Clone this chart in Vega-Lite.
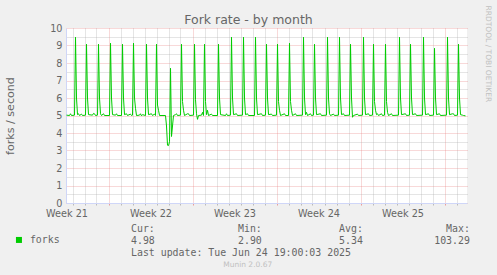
{
  "$schema": "https://vega.github.io/schema/vega-lite/v6.json",
  "width": 401,
  "height": 175,
  "autosize": {"type": "none"},
  "padding": {"left": 66, "top": 28, "right": 30, "bottom": 72},
  "background": "#f0f0f0",
  "view": {"fill": "#ffffff", "stroke": null},
  "config": {"font": "DejaVu Sans"},
  "title": {
    "text": "Munin 2.0.67",
    "orient": "bottom",
    "frame": "group",
    "anchor": "middle",
    "dx": -18.8,
    "offset": 4,
    "font": "DejaVu Sans",
    "fontSize": 7.5,
    "fontWeight": "normal",
    "color": "#c0c0c0"
  },
  "data": {
    "values": [
      {"t": "2025-05-22T12:00Z", "v": 5.02}, {"t": "2025-05-22T18:00Z", "v": 5.0}, {"t": "2025-05-22T20:00Z", "v": 5.1}, {"t": "2025-05-22T22:00Z", "v": 5.0},
      {"t": "2025-05-23T04:00Z", "v": 5.02}, {"t": "2025-05-23T06:00Z", "v": 9.47}, {"t": "2025-05-23T08:00Z", "v": 6.0}, {"t": "2025-05-23T10:00Z", "v": 5.05}, {"t": "2025-05-23T12:00Z", "v": 5.1}, {"t": "2025-05-23T14:00Z", "v": 5.0}, {"t": "2025-05-23T18:00Z", "v": 5.08}, {"t": "2025-05-23T20:00Z", "v": 5.0},
      {"t": "2025-05-24T02:00Z", "v": 5.02}, {"t": "2025-05-24T04:00Z", "v": 9.07}, {"t": "2025-05-24T06:00Z", "v": 6.0}, {"t": "2025-05-24T08:00Z", "v": 5.05}, {"t": "2025-05-24T16:00Z", "v": 5.02}, {"t": "2025-05-24T18:00Z", "v": 5.12}, {"t": "2025-05-24T20:00Z", "v": 5.1}, {"t": "2025-05-24T22:00Z", "v": 5.0},
      {"t": "2025-05-25T02:00Z", "v": 5.02}, {"t": "2025-05-25T04:00Z", "v": 9.07}, {"t": "2025-05-25T06:00Z", "v": 6.0}, {"t": "2025-05-25T08:00Z", "v": 5.1}, {"t": "2025-05-25T10:00Z", "v": 5.0}, {"t": "2025-05-25T14:00Z", "v": 5.1}, {"t": "2025-05-25T16:00Z", "v": 5.0},
      {"t": "2025-05-26T02:00Z", "v": 5.0}, {"t": "2025-05-26T04:00Z", "v": 9.13}, {"t": "2025-05-26T06:00Z", "v": 6.0}, {"t": "2025-05-26T08:00Z", "v": 5.05}, {"t": "2025-05-26T14:00Z", "v": 5.02}, {"t": "2025-05-26T16:00Z", "v": 5.1}, {"t": "2025-05-26T18:00Z", "v": 5.0},
      {"t": "2025-05-27T02:00Z", "v": 5.0}, {"t": "2025-05-27T04:00Z", "v": 9.07}, {"t": "2025-05-27T06:00Z", "v": 6.0}, {"t": "2025-05-27T08:00Z", "v": 5.05}, {"t": "2025-05-27T12:00Z", "v": 5.1}, {"t": "2025-05-27T14:00Z", "v": 5.0}, {"t": "2025-05-27T20:00Z", "v": 5.08}, {"t": "2025-05-27T22:00Z", "v": 5.0},
      {"t": "2025-05-28T00:00Z", "v": 5.02}, {"t": "2025-05-28T02:00Z", "v": 9.13}, {"t": "2025-05-28T04:00Z", "v": 6.0}, {"t": "2025-05-28T06:00Z", "v": 5.41}, {"t": "2025-05-28T08:00Z", "v": 5.0}, {"t": "2025-05-28T14:00Z", "v": 5.02}, {"t": "2025-05-28T16:00Z", "v": 5.1}, {"t": "2025-05-28T18:00Z", "v": 4.98}, {"t": "2025-05-28T20:00Z", "v": 5.05},
      {"t": "2025-05-29T02:00Z", "v": 5.0}, {"t": "2025-05-29T04:00Z", "v": 9.07}, {"t": "2025-05-29T06:00Z", "v": 6.0}, {"t": "2025-05-29T08:00Z", "v": 5.05}, {"t": "2025-05-29T14:00Z", "v": 5.1}, {"t": "2025-05-29T16:00Z", "v": 5.0}, {"t": "2025-05-29T20:00Z", "v": 5.08}, {"t": "2025-05-29T22:00Z", "v": 5.0},
      {"t": "2025-05-30T00:00Z", "v": 9.07}, {"t": "2025-05-30T02:00Z", "v": 5.6}, {"t": "2025-05-30T04:00Z", "v": 5.3}, {"t": "2025-05-30T06:00Z", "v": 5.0}, {"t": "2025-05-30T18:00Z", "v": 5.0}, {"t": "2025-05-30T20:00Z", "v": 4.4}, {"t": "2025-05-30T22:00Z", "v": 3.3},
      {"t": "2025-05-31T00:00Z", "v": 3.28}, {"t": "2025-05-31T02:00Z", "v": 3.5}, {"t": "2025-05-31T04:00Z", "v": 7.7}, {"t": "2025-05-31T06:00Z", "v": 3.8}, {"t": "2025-05-31T08:00Z", "v": 4.4}, {"t": "2025-05-31T10:00Z", "v": 5.0}, {"t": "2025-05-31T14:00Z", "v": 5.05}, {"t": "2025-05-31T16:00Z", "v": 5.1}, {"t": "2025-05-31T18:00Z", "v": 5.0},
      {"t": "2025-06-01T00:00Z", "v": 5.02}, {"t": "2025-06-01T02:00Z", "v": 9.07}, {"t": "2025-06-01T04:00Z", "v": 5.8}, {"t": "2025-06-01T06:00Z", "v": 5.3}, {"t": "2025-06-01T08:00Z", "v": 5.0}, {"t": "2025-06-01T14:00Z", "v": 5.1}, {"t": "2025-06-01T16:00Z", "v": 5.1}, {"t": "2025-06-01T18:00Z", "v": 5.0},
      {"t": "2025-06-02T02:00Z", "v": 5.02}, {"t": "2025-06-02T04:00Z", "v": 9.07}, {"t": "2025-06-02T06:00Z", "v": 5.9}, {"t": "2025-06-02T08:00Z", "v": 5.1}, {"t": "2025-06-02T10:00Z", "v": 4.78}, {"t": "2025-06-02T12:00Z", "v": 5.0}, {"t": "2025-06-02T18:00Z", "v": 5.02}, {"t": "2025-06-02T20:00Z", "v": 5.18}, {"t": "2025-06-02T22:00Z", "v": 5.0},
      {"t": "2025-06-03T00:00Z", "v": 9.07}, {"t": "2025-06-03T02:00Z", "v": 5.8}, {"t": "2025-06-03T04:00Z", "v": 5.05}, {"t": "2025-06-03T06:00Z", "v": 5.3}, {"t": "2025-06-03T08:00Z", "v": 5.0}, {"t": "2025-06-03T14:00Z", "v": 5.08}, {"t": "2025-06-03T16:00Z", "v": 5.0},
      {"t": "2025-06-04T02:00Z", "v": 5.0}, {"t": "2025-06-04T04:00Z", "v": 9.07}, {"t": "2025-06-04T06:00Z", "v": 6.0}, {"t": "2025-06-04T08:00Z", "v": 5.05}, {"t": "2025-06-04T18:00Z", "v": 5.0}, {"t": "2025-06-04T20:00Z", "v": 5.1}, {"t": "2025-06-04T22:00Z", "v": 5.0},
      {"t": "2025-06-05T04:00Z", "v": 5.02}, {"t": "2025-06-05T06:00Z", "v": 9.47}, {"t": "2025-06-05T08:00Z", "v": 6.0}, {"t": "2025-06-05T10:00Z", "v": 5.05}, {"t": "2025-06-05T16:00Z", "v": 5.1}, {"t": "2025-06-05T18:00Z", "v": 5.0},
      {"t": "2025-06-06T04:00Z", "v": 5.02}, {"t": "2025-06-06T06:00Z", "v": 9.47}, {"t": "2025-06-06T08:00Z", "v": 6.0}, {"t": "2025-06-06T10:00Z", "v": 5.05}, {"t": "2025-06-06T14:00Z", "v": 5.1}, {"t": "2025-06-06T16:00Z", "v": 5.0},
      {"t": "2025-06-07T04:00Z", "v": 5.0}, {"t": "2025-06-07T06:00Z", "v": 9.47}, {"t": "2025-06-07T08:00Z", "v": 6.0}, {"t": "2025-06-07T10:00Z", "v": 5.05}, {"t": "2025-06-07T18:00Z", "v": 5.1}, {"t": "2025-06-07T20:00Z", "v": 5.0},
      {"t": "2025-06-08T02:00Z", "v": 5.02}, {"t": "2025-06-08T04:00Z", "v": 9.07}, {"t": "2025-06-08T06:00Z", "v": 6.0}, {"t": "2025-06-08T08:00Z", "v": 5.05}, {"t": "2025-06-08T14:00Z", "v": 5.08}, {"t": "2025-06-08T16:00Z", "v": 5.0},
      {"t": "2025-06-09T00:00Z", "v": 5.02}, {"t": "2025-06-09T02:00Z", "v": 9.07}, {"t": "2025-06-09T04:00Z", "v": 5.8}, {"t": "2025-06-09T06:00Z", "v": 5.3}, {"t": "2025-06-09T08:00Z", "v": 5.0}, {"t": "2025-06-09T16:00Z", "v": 5.1}, {"t": "2025-06-09T18:00Z", "v": 5.0},
      {"t": "2025-06-10T00:00Z", "v": 5.0}, {"t": "2025-06-10T02:00Z", "v": 9.13}, {"t": "2025-06-10T04:00Z", "v": 5.8}, {"t": "2025-06-10T06:00Z", "v": 5.3}, {"t": "2025-06-10T08:00Z", "v": 5.0}, {"t": "2025-06-10T14:00Z", "v": 5.1}, {"t": "2025-06-10T16:00Z", "v": 5.0},
      {"t": "2025-06-11T04:00Z", "v": 5.02}, {"t": "2025-06-11T06:00Z", "v": 9.47}, {"t": "2025-06-11T08:00Z", "v": 6.0}, {"t": "2025-06-11T10:00Z", "v": 5.05}, {"t": "2025-06-11T12:00Z", "v": 5.18}, {"t": "2025-06-11T14:00Z", "v": 5.0}, {"t": "2025-06-11T20:00Z", "v": 5.1}, {"t": "2025-06-11T22:00Z", "v": 5.0},
      {"t": "2025-06-12T02:00Z", "v": 5.02}, {"t": "2025-06-12T04:00Z", "v": 9.07}, {"t": "2025-06-12T06:00Z", "v": 6.0}, {"t": "2025-06-12T08:00Z", "v": 5.05}, {"t": "2025-06-12T16:00Z", "v": 5.1}, {"t": "2025-06-12T18:00Z", "v": 5.0},
      {"t": "2025-06-13T04:00Z", "v": 5.02}, {"t": "2025-06-13T06:00Z", "v": 9.47}, {"t": "2025-06-13T08:00Z", "v": 6.0}, {"t": "2025-06-13T10:00Z", "v": 5.1}, {"t": "2025-06-13T12:00Z", "v": 5.0}, {"t": "2025-06-13T18:00Z", "v": 5.08}, {"t": "2025-06-13T20:00Z", "v": 5.0},
      {"t": "2025-06-14T04:00Z", "v": 5.02}, {"t": "2025-06-14T06:00Z", "v": 9.47}, {"t": "2025-06-14T08:00Z", "v": 6.0}, {"t": "2025-06-14T10:00Z", "v": 5.05}, {"t": "2025-06-14T14:00Z", "v": 5.1}, {"t": "2025-06-14T16:00Z", "v": 5.0},
      {"t": "2025-06-15T02:00Z", "v": 5.02}, {"t": "2025-06-15T04:00Z", "v": 9.07}, {"t": "2025-06-15T06:00Z", "v": 6.0}, {"t": "2025-06-15T08:00Z", "v": 4.9}, {"t": "2025-06-15T10:00Z", "v": 5.0}, {"t": "2025-06-15T18:00Z", "v": 5.08}, {"t": "2025-06-15T20:00Z", "v": 5.0},
      {"t": "2025-06-16T04:00Z", "v": 5.02}, {"t": "2025-06-16T06:00Z", "v": 9.47}, {"t": "2025-06-16T08:00Z", "v": 6.0}, {"t": "2025-06-16T10:00Z", "v": 5.05}, {"t": "2025-06-16T16:00Z", "v": 5.1}, {"t": "2025-06-16T18:00Z", "v": 5.0},
      {"t": "2025-06-17T00:00Z", "v": 5.02}, {"t": "2025-06-17T02:00Z", "v": 9.07}, {"t": "2025-06-17T04:00Z", "v": 5.8}, {"t": "2025-06-17T06:00Z", "v": 5.3}, {"t": "2025-06-17T08:00Z", "v": 5.05}, {"t": "2025-06-17T10:00Z", "v": 5.1}, {"t": "2025-06-17T12:00Z", "v": 5.0}, {"t": "2025-06-17T18:00Z", "v": 5.1}, {"t": "2025-06-17T20:00Z", "v": 5.0},
      {"t": "2025-06-18T00:00Z", "v": 5.02}, {"t": "2025-06-18T02:00Z", "v": 9.07}, {"t": "2025-06-18T04:00Z", "v": 5.8}, {"t": "2025-06-18T06:00Z", "v": 5.18}, {"t": "2025-06-18T08:00Z", "v": 5.0}, {"t": "2025-06-18T14:00Z", "v": 5.1}, {"t": "2025-06-18T16:00Z", "v": 5.0},
      {"t": "2025-06-19T04:00Z", "v": 5.02}, {"t": "2025-06-19T06:00Z", "v": 9.47}, {"t": "2025-06-19T08:00Z", "v": 6.0}, {"t": "2025-06-19T10:00Z", "v": 5.05}, {"t": "2025-06-19T18:00Z", "v": 5.1}, {"t": "2025-06-19T20:00Z", "v": 5.0},
      {"t": "2025-06-20T02:00Z", "v": 5.02}, {"t": "2025-06-20T04:00Z", "v": 9.07}, {"t": "2025-06-20T06:00Z", "v": 6.0}, {"t": "2025-06-20T08:00Z", "v": 5.05}, {"t": "2025-06-20T14:00Z", "v": 5.1}, {"t": "2025-06-20T16:00Z", "v": 5.0},
      {"t": "2025-06-21T04:00Z", "v": 5.02}, {"t": "2025-06-21T06:00Z", "v": 9.47}, {"t": "2025-06-21T08:00Z", "v": 6.0}, {"t": "2025-06-21T10:00Z", "v": 5.05}, {"t": "2025-06-21T16:00Z", "v": 5.1}, {"t": "2025-06-21T18:00Z", "v": 5.0},
      {"t": "2025-06-22T02:00Z", "v": 5.02}, {"t": "2025-06-22T04:00Z", "v": 8.84}, {"t": "2025-06-22T06:00Z", "v": 6.0}, {"t": "2025-06-22T08:00Z", "v": 5.05}, {"t": "2025-06-22T14:00Z", "v": 5.1}, {"t": "2025-06-22T16:00Z", "v": 5.0},
      {"t": "2025-06-23T04:00Z", "v": 5.02}, {"t": "2025-06-23T06:00Z", "v": 9.47}, {"t": "2025-06-23T08:00Z", "v": 6.0}, {"t": "2025-06-23T10:00Z", "v": 5.05}, {"t": "2025-06-23T16:00Z", "v": 5.1}, {"t": "2025-06-23T18:00Z", "v": 5.1}, {"t": "2025-06-23T20:00Z", "v": 5.0},
      {"t": "2025-06-24T02:00Z", "v": 5.02}, {"t": "2025-06-24T04:00Z", "v": 9.07}, {"t": "2025-06-24T06:00Z", "v": 6.0}, {"t": "2025-06-24T08:00Z", "v": 5.05}, {"t": "2025-06-24T12:00Z", "v": 5.02}, {"t": "2025-06-24T14:00Z", "v": 5.0}, {"t": "2025-06-24T18:00Z", "v": 4.98}
    ]
  },
  "layer": [
    {
      "mark": {"type": "line", "strokeWidth": 1, "interpolate": "linear"},
      "encoding": {
        "x": {
          "field": "t",
          "type": "temporal",
          "scale": {
            "type": "utc",
            "domain": [
              {"year": 2025, "month": 5, "date": 22, "hours": 11, "utc": true},
              {"year": 2025, "month": 6, "date": 24, "hours": 21, "utc": true}
            ]
          },
          "axis": {
            "values": [
              {"year": 2025, "month": 5, "date": 22, "hours": 12, "utc": true},
              {"year": 2025, "month": 5, "date": 23, "utc": true},
              {"year": 2025, "month": 5, "date": 24, "utc": true},
              {"year": 2025, "month": 5, "date": 25, "utc": true},
              {"year": 2025, "month": 5, "date": 26, "utc": true},
              {"year": 2025, "month": 5, "date": 27, "utc": true},
              {"year": 2025, "month": 5, "date": 28, "utc": true},
              {"year": 2025, "month": 5, "date": 29, "utc": true},
              {"year": 2025, "month": 5, "date": 29, "hours": 12, "utc": true},
              {"year": 2025, "month": 5, "date": 30, "utc": true},
              {"year": 2025, "month": 5, "date": 31, "utc": true},
              {"year": 2025, "month": 6, "date": 1, "utc": true},
              {"year": 2025, "month": 6, "date": 2, "utc": true},
              {"year": 2025, "month": 6, "date": 3, "utc": true},
              {"year": 2025, "month": 6, "date": 4, "utc": true},
              {"year": 2025, "month": 6, "date": 5, "utc": true},
              {"year": 2025, "month": 6, "date": 5, "hours": 12, "utc": true},
              {"year": 2025, "month": 6, "date": 6, "utc": true},
              {"year": 2025, "month": 6, "date": 7, "utc": true},
              {"year": 2025, "month": 6, "date": 8, "utc": true},
              {"year": 2025, "month": 6, "date": 9, "utc": true},
              {"year": 2025, "month": 6, "date": 10, "utc": true},
              {"year": 2025, "month": 6, "date": 11, "utc": true},
              {"year": 2025, "month": 6, "date": 12, "utc": true},
              {"year": 2025, "month": 6, "date": 12, "hours": 12, "utc": true},
              {"year": 2025, "month": 6, "date": 13, "utc": true},
              {"year": 2025, "month": 6, "date": 14, "utc": true},
              {"year": 2025, "month": 6, "date": 15, "utc": true},
              {"year": 2025, "month": 6, "date": 16, "utc": true},
              {"year": 2025, "month": 6, "date": 17, "utc": true},
              {"year": 2025, "month": 6, "date": 18, "utc": true},
              {"year": 2025, "month": 6, "date": 19, "utc": true},
              {"year": 2025, "month": 6, "date": 19, "hours": 12, "utc": true},
              {"year": 2025, "month": 6, "date": 20, "utc": true},
              {"year": 2025, "month": 6, "date": 21, "utc": true},
              {"year": 2025, "month": 6, "date": 22, "utc": true},
              {"year": 2025, "month": 6, "date": 23, "utc": true},
              {"year": 2025, "month": 6, "date": 24, "utc": true}
            ],
            "labelExpr": "utchours(datum.value) === 12 ? 'Week ' + utcFormat(datum.value, '%V') : ''",
            "labelOverlap": false,
            "labelFlush": false,
            "labelBound": false,
            "labelFont": "DejaVu Sans",
            "labelFontSize": 9.7,
            "labelColor": "#666666",
            "labelPadding": 3,
            "domainColor": "#CFD6F8",
            "domainWidth": 1,
            "grid": true,
            "gridDash": [1, 1],
            "gridWidth": 1,
            "gridColor": {"condition": {"test": "utcday(datum.value) === 1 && utchours(datum.value) === 0", "value": "#e87f7f"}, "value": "#a8a8a8"},
            "gridOpacity": {"condition": {"test": "utchours(datum.value) === 12", "value": 0}, "value": 0.6},
            "ticks": true,
            "tickSize": 2,
            "tickColor": {"condition": {"test": "utcday(datum.value) === 1 && utchours(datum.value) === 0", "value": "#e87f7f"}, "value": "#a8a8a8"},
            "tickOpacity": {"condition": {"test": "utchours(datum.value) === 12", "value": 0}, "value": 0.75},
            "title": [
              "Cur:\u00a0\u00a0\u00a0\u00a0\u00a0\u00a0\u00a0\u00a0\u00a0\u00a0\u00a0\u00a0\u00a0\u00a0Min:\u00a0\u00a0\u00a0\u00a0\u00a0\u00a0\u00a0\u00a0\u00a0\u00a0\u00a0\u00a0\u00a0Avg:\u00a0\u00a0\u00a0\u00a0\u00a0\u00a0\u00a0\u00a0\u00a0\u00a0\u00a0\u00a0\u00a0\u00a0Max:",
              "\u00a04.98\u00a0\u00a0\u00a0\u00a0\u00a0\u00a0\u00a0\u00a0\u00a0\u00a0\u00a0\u00a0\u00a0\u00a02.90\u00a0\u00a0\u00a0\u00a0\u00a0\u00a0\u00a0\u00a0\u00a0\u00a0\u00a0\u00a0\u00a05.34\u00a0\u00a0\u00a0\u00a0\u00a0\u00a0\u00a0\u00a0\u00a0\u00a0\u00a0\u00a0103.29",
              "\u00a0\u00a0\u00a0\u00a0\u00a0\u00a0\u00a0\u00a0\u00a0\u00a0\u00a0\u00a0\u00a0\u00a0\u00a0\u00a0\u00a0\u00a0\u00a0\u00a0\u00a0\u00a0Last\u00a0update:\u00a0Tue\u00a0Jun\u00a024\u00a019:00:03\u00a02025"
            ],
            "titleFont": "DejaVu Sans Mono",
            "titleFontSize": 9.9,
            "titleFontWeight": "normal",
            "titleColor": "#666666",
            "titleAlign": "left",
            "titleBaseline": "top",
            "titleLineHeight": 12,
            "titleX": 64.5,
            "titleY": 20.5
          }
        },
        "y": {
          "field": "v",
          "type": "quantitative",
          "scale": {"domain": [0, 10], "nice": false, "zero": true},
          "axis": {
            "values": [0, 0.5, 1, 1.5, 2, 2.5, 3, 3.5, 4, 4.5, 5, 5.5, 6, 6.5, 7, 7.5, 8, 8.5, 9, 9.5, 10],
            "labelExpr": "datum.value % 1 === 0 ? datum.value : ''",
            "labelOverlap": false,
            "labelFlush": false,
            "labelFont": "DejaVu Sans",
            "labelFontSize": 9.7,
            "labelColor": "#666666",
            "labelPadding": 4,
            "ticks": false,
            "domainColor": "#CFD6F8",
            "domainWidth": 1,
            "grid": true,
            "gridDash": [1, 1],
            "gridWidth": 1,
            "gridColor": {"condition": {"test": "datum.value % 1 === 0", "value": "#e87f7f"}, "value": "#a8a8a8"},
            "gridOpacity": 0.6,
            "title": "forks / second",
            "titleFont": "DejaVu Sans",
            "titleFontSize": 11.1,
            "titleFontWeight": "normal",
            "titleColor": "#666666",
            "titleAngle": -90,
            "titleAlign": "center",
            "titleBaseline": "middle",
            "titleX": -55.5,
            "titleY": 87.5
          }
        },
        "color": {
          "datum": "forks",
          "type": "nominal",
          "scale": {"range": ["#00cc00"]},
          "legend": {
            "orient": "none",
            "legendX": -52,
            "legendY": 207,
            "title": null,
            "padding": 0,
            "symbolType": "square",
            "symbolSize": 36,
            "symbolFillColor": "#00cc00",
            "symbolStrokeWidth": 0,
            "labelFont": "DejaVu Sans Mono",
            "labelFontSize": 9.9,
            "labelColor": "#666666",
            "labelOffset": 6,
            "encode": {"symbols": {"update": {"fill": {"value": "#00cc00"}, "stroke": {"value": "#00cc00"}, "shape": {"value": "square"}, "strokeWidth": {"value": 0}}}}
          }
        }
      }
    },
    {
      "mark": {"type": "line", "opacity": 0},
      "encoding": {
        "x": {
          "field": "t",
          "type": "temporal",
          "scale": {
            "type": "utc",
            "domain": [
              {"year": 2025, "month": 5, "date": 22, "hours": 11, "utc": true},
              {"year": 2025, "month": 6, "date": 24, "hours": 21, "utc": true}
            ]
          },
          "axis": {
            "orient": "top",
            "domain": false,
            "ticks": false,
            "labels": false,
            "grid": false,
            "title": "Fork rate - by month",
            "titleFont": "DejaVu Sans",
            "titleFontSize": 12.5,
            "titleFontWeight": "normal",
            "titleColor": "#666666",
            "titleAlign": "center",
            "titleBaseline": "middle",
            "titleX": 182,
            "titleY": -9
          }
        },
        "y": {
          "field": "v",
          "type": "quantitative",
          "scale": {"domain": [0, 10], "nice": false},
          "axis": {
            "orient": "right",
            "domain": false,
            "ticks": false,
            "labels": false,
            "grid": false,
            "title": "RRDTOOL / TOBI OETIKER",
            "titleFont": "DejaVu Sans",
            "titleFontSize": 7.5,
            "titleFontWeight": "normal",
            "titleColor": "#c0c0c0",
            "titleAngle": 90,
            "titleAlign": "center",
            "titleBaseline": "middle",
            "titleX": 20.7,
            "titleY": 25.3
          }
        }
      }
    }
  ],
  "resolve": {"scale": {"x": "independent", "y": "independent"}}
}
